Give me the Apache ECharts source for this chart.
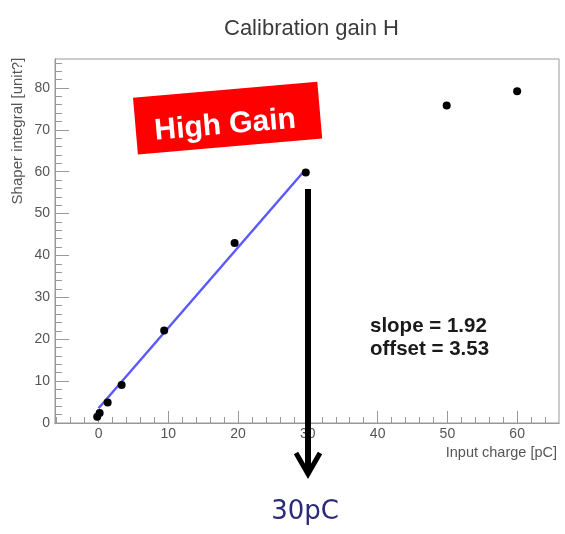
<!DOCTYPE html>
<html>
<head>
<meta charset="utf-8">
<script src="https://cdn.jsdelivr.net/npm/echarts@6/dist/echarts.min.js"></script>
<style>html,body{margin:0;padding:0;background:#fff}#c{width:565px;height:534px}</style>
</head>
<body>
<div id="c"></div>
<script>
// ---- data ----
var chargeX = [-0.2, 0.15, 1.3, 3.3, 9.4, 19.5, 29.7, 49.9, 60.0];
var integralY = [1.5, 2.4, 4.9, 9.1, 22.1, 43.0, 59.8, 75.8, 79.2];
var fitX = [0, 29.6];
var fitY = [3.53, 60.4];
var xMajorTicks = [0, 10, 20, 30, 40, 50, 60];
var xMinorTicks = [-6, -4, -2, 2, 4, 6, 8, 12, 14, 16, 18, 22, 24, 26, 28, 32, 34, 36, 38, 42, 44, 46, 48, 52, 54, 56, 58, 62, 64];
var yMajorTicks = [0, 10, 20, 30, 40, 50, 60, 70, 80];
var yMinorTicks = [2, 4, 6, 8, 12, 14, 16, 18, 22, 24, 26, 28, 32, 34, 36, 38, 42, 44, 46, 48, 52, 54, 56, 58, 62, 64, 66, 68, 72, 74, 76, 78, 82, 84, 86];
var titleText = 'Calibration gain H';
var xName = 'Input charge [pC]';
var yName = 'Shaper integral [unit?]';
var badgeText = 'High Gain';
var fitText1 = 'slope = 1.92';
var fitText2 = 'offset = 3.53';
var arrowLabel = '30pC';

var FONT = 'Liberation Sans, Arial, Helvetica, sans-serif';
var AX = '#999999';
var LBL = '#555';

var chart = echarts.init(document.getElementById('c'), null, {renderer: 'canvas'});
var grid = {left: 55, right: 6, top: 59, bottom: 111, show: true, borderColor: AX, borderWidth: 1, backgroundColor: 'transparent'};

function xAx(ticks, len, labels) {
  return {
    type: 'value', min: -6.25, max: 66, gridIndex: 0, position: 'bottom',
    axisLine: {show: true, onZero: false, lineStyle: {color: AX, width: 1}},
    axisTick: {show: true, inside: true, length: len, customValues: ticks, lineStyle: {color: AX, width: 1}},
    axisLabel: labels ? {show: true, customValues: ticks, color: LBL, fontFamily: FONT, fontSize: 14, margin: 4} : {show: false},
    splitLine: {show: false}
  };
}
function yAx(ticks, len, labels) {
  return {
    type: 'value', min: 0, max: 86.9, gridIndex: 0, position: 'left',
    axisLine: {show: true, onZero: false, lineStyle: {color: AX, width: 1}},
    axisTick: {show: true, inside: true, length: len, customValues: ticks, lineStyle: {color: AX, width: 1}},
    axisLabel: labels ? {show: true, customValues: ticks, color: LBL, fontFamily: FONT, fontSize: 14, margin: 5} : {show: false},
    splitLine: {show: false}
  };
}

var scatterData = chargeX.map(function (x, i) { return [x, integralY[i]]; });
var fitData = fitX.map(function (x, i) { return [x, fitY[i]]; });

var option = {
  animation: false,
  backgroundColor: '#fff',
  title: {text: titleText, left: 219, top: 13, textStyle: {fontFamily: FONT, fontSize: 22, fontWeight: 'normal', color: '#3a3a3a'}},
  grid: grid,
  xAxis: [xAx(xMajorTicks, 12, true), xAx(xMinorTicks, 6, false)],
  yAxis: [yAx(yMajorTicks, 14, true), yAx(yMinorTicks, 7, false)],
  series: [
    {type: 'line', xAxisIndex: 0, yAxisIndex: 0, data: fitData, symbol: 'none', lineStyle: {color: '#5a5aff', width: 2.5}, z: 2},
    {type: 'scatter', xAxisIndex: 0, yAxisIndex: 0, data: scatterData, symbol: 'circle', symbolSize: 8, itemStyle: {color: '#000', opacity: 1}, z: 3}
  ],
  graphic: [
    {type: 'text', x: 557, y: 453, style: {text: xName, fill: LBL, font: '14.5px ' + FONT, textAlign: 'right', textVerticalAlign: 'middle'}},
    {type: 'text', x: 18, y: 131, rotation: Math.PI / 2, style: {text: yName, fill: LBL, font: '15px ' + FONT, textAlign: 'center', textVerticalAlign: 'middle'}},
    {type: 'group', x: 227.6, y: 118.2, rotation: 0.0866, children: [
      {type: 'rect', shape: {x: -92.5, y: -28.5, width: 185, height: 57}, style: {fill: '#ff0000'}},
      {type: 'text', x: -3, y: 7, style: {text: badgeText, fill: '#fff', font: 'bold 30px ' + FONT, textAlign: 'center', textVerticalAlign: 'middle'}}
    ]},
    {type: 'text', x: 370, y: 326, style: {text: fitText1, fill: '#1a1a1a', font: 'bold 20.5px ' + FONT, textVerticalAlign: 'middle'}},
    {type: 'text', x: 370, y: 349, style: {text: fitText2, fill: '#1a1a1a', font: 'bold 20.5px ' + FONT, textVerticalAlign: 'middle'}},
    {type: 'polyline', shape: {points: [[308, 189], [308, 472]]}, style: {stroke: '#000', lineWidth: 6}, z: 10},
    {type: 'polyline', shape: {points: [[296, 453], [308, 474], [320, 453]]}, style: {stroke: '#000', lineWidth: 5, fill: null, lineJoin: 'miter'}, z: 10},
    {type: 'text', x: 305, y: 512, style: {text: arrowLabel, fill: '#2b2b78', font: '26px DejaVu Sans, sans-serif', textAlign: 'center', textVerticalAlign: 'middle'}}
  ]
};
chart.setOption(option);
</script>
</body>
</html>
